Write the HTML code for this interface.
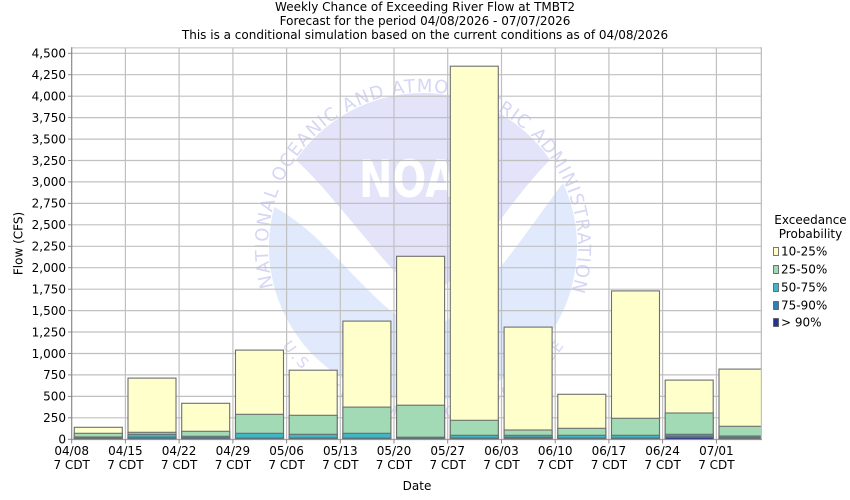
<!DOCTYPE html>
<html><head><meta charset="utf-8"><style>
html,body{margin:0;padding:0;background:#fff;}
svg{display:block;}
text{font-family:"DejaVu Sans","Liberation Sans",sans-serif;font-size:12px;fill:#000;}
</style></head><body>
<svg width="850" height="500" viewBox="0 0 850 500" xmlns="http://www.w3.org/2000/svg">
<defs>
<clipPath id="pc"><rect x="71.7" y="47.3" width="690.3" height="392"/></clipPath>
<path id="ring" d="M273.3,287.1 A155,155 0 1,1 500.5,381.2"/>
<path id="ring2" d="M282.1,345.7 A172,172 0 0,0 563.9,345.7"/>
</defs>
<rect width="850" height="500" fill="#fff"/>
<text x="425" y="11" text-anchor="middle">Weekly Chance of Exceeding River Flow at TMBT2</text>
<text x="425" y="25" text-anchor="middle">Forecast for the period 04/08/2026 - 07/07/2026</text>
<text x="425" y="39" text-anchor="middle">This is a conditional simulation based on the current conditions as of 04/08/2026</text>

<g clip-path="url(#pc)">
<!-- watermark -->
<circle cx="423" cy="247" r="154" fill="#E0EAFC"/>
<path d="M296,160 A154,154 0 0,1 550,160 C500,210 460,290 425,295 C400,290 340,200 296,160 Z" fill="#E3E3FA"/>
<path d="M296,160 A154,154 0 0,0 274,207 C330,235 380,320 425,330 C470,320 520,240 563,183 A154,154 0 0,0 550,160 C500,210 460,290 425,295 C400,290 340,200 296,160 Z" fill="#fff"/>
<text x="423" y="197" text-anchor="middle" textLength="128" lengthAdjust="spacingAndGlyphs" style="font-size:52px;font-weight:bold;fill:#fff;">NOAA</text>
<text style="font-size:18px;fill:#D6D6F5;letter-spacing:1.15px;"><textPath href="#ring">NATIONAL OCEANIC AND ATMOSPHERIC ADMINISTRATION</textPath></text>
<text style="font-size:15px;fill:#D6D6F5;"><textPath href="#ring2" textLength="330" lengthAdjust="spacing">U.S. DEPARTMENT OF COMMERCE</textPath></text>

<!-- grid -->
<g stroke="#C0C0C0" stroke-width="1.2" fill="none">
<line x1="71.7" x2="762" y1="47.8" y2="47.8"/>
<line x1="71.7" x2="762" y1="53.3" y2="53.3"/>
<line x1="71.7" x2="762" y1="74.7" y2="74.7"/>
<line x1="71.7" x2="762" y1="96.2" y2="96.2"/>
<line x1="71.7" x2="762" y1="117.6" y2="117.6"/>
<line x1="71.7" x2="762" y1="139.1" y2="139.1"/>
<line x1="71.7" x2="762" y1="160.5" y2="160.5"/>
<line x1="71.7" x2="762" y1="181.9" y2="181.9"/>
<line x1="71.7" x2="762" y1="203.4" y2="203.4"/>
<line x1="71.7" x2="762" y1="224.8" y2="224.8"/>
<line x1="71.7" x2="762" y1="246.3" y2="246.3"/>
<line x1="71.7" x2="762" y1="267.7" y2="267.7"/>
<line x1="71.7" x2="762" y1="289.2" y2="289.2"/>
<line x1="71.7" x2="762" y1="310.6" y2="310.6"/>
<line x1="71.7" x2="762" y1="332.0" y2="332.0"/>
<line x1="71.7" x2="762" y1="353.5" y2="353.5"/>
<line x1="71.7" x2="762" y1="374.9" y2="374.9"/>
<line x1="71.7" x2="762" y1="396.4" y2="396.4"/>
<line x1="71.7" x2="762" y1="417.8" y2="417.8"/>
<line x1="71.7" x2="762" y1="439.3" y2="439.3"/>
<line y1="47.3" y2="439.3" x1="125.4" x2="125.4"/>
<line y1="47.3" y2="439.3" x1="179.1" x2="179.1"/>
<line y1="47.3" y2="439.3" x1="232.9" x2="232.9"/>
<line y1="47.3" y2="439.3" x1="286.6" x2="286.6"/>
<line y1="47.3" y2="439.3" x1="340.3" x2="340.3"/>
<line y1="47.3" y2="439.3" x1="394.0" x2="394.0"/>
<line y1="47.3" y2="439.3" x1="447.7" x2="447.7"/>
<line y1="47.3" y2="439.3" x1="501.5" x2="501.5"/>
<line y1="47.3" y2="439.3" x1="555.2" x2="555.2"/>
<line y1="47.3" y2="439.3" x1="608.9" x2="608.9"/>
<line y1="47.3" y2="439.3" x1="662.6" x2="662.6"/>
<line y1="47.3" y2="439.3" x1="716.4" x2="716.4"/>
<line y1="47.3" y2="439.3" x1="761.4" x2="761.4"/>
</g>

<!-- bars -->
<g stroke="#6E6E6E" stroke-width="1.1">
<g transform="translate(74.3,0)">
<rect x="0" width="48" y="427.3" height="12" fill="#FFFFCC"/>
<rect x="0" width="48" y="433.3" height="6" fill="#A1DAB4"/>
<rect x="0" width="48" y="437.0" height="2.3" fill="#41B6C4"/>
<rect x="0" width="48" y="437.8" height="1.5" fill="#2C7FB8"/>
<rect x="0" width="48" y="438.6" height="0.7" fill="#253494"/>
</g>
<g transform="translate(128.0,0)">
<rect x="0" width="48" y="378.1" height="61.2" fill="#FFFFCC"/>
<rect x="0" width="48" y="432.3" height="7" fill="#A1DAB4"/>
<rect x="0" width="48" y="434.3" height="5" fill="#41B6C4"/>
<rect x="0" width="48" y="437.2" height="2.1" fill="#2C7FB8"/>
<rect x="0" width="48" y="438.9" height="0.4" fill="#253494"/>
</g>
<g transform="translate(181.7,0)">
<rect x="0" width="48" y="403.3" height="36" fill="#FFFFCC"/>
<rect x="0" width="48" y="431.3" height="8" fill="#A1DAB4"/>
<rect x="0" width="48" y="436.3" height="3" fill="#41B6C4"/>
<rect x="0" width="48" y="437.6" height="1.7" fill="#2C7FB8"/>
<rect x="0" width="48" y="438.9" height="0.4" fill="#253494"/>
</g>
<g transform="translate(235.5,0)">
<rect x="0" width="48" y="350.1" height="89.2" fill="#FFFFCC"/>
<rect x="0" width="48" y="414.3" height="25" fill="#A1DAB4"/>
<rect x="0" width="48" y="433.3" height="6" fill="#41B6C4"/>
<rect x="0" width="48" y="438.0" height="1.3" fill="#2C7FB8"/>
</g>
<g transform="translate(289.2,0)">
<rect x="0" width="48" y="370.2" height="69.1" fill="#FFFFCC"/>
<rect x="0" width="48" y="415.3" height="24" fill="#A1DAB4"/>
<rect x="0" width="48" y="434.3" height="5" fill="#41B6C4"/>
<rect x="0" width="48" y="438.0" height="1.3" fill="#2C7FB8"/>
</g>
<g transform="translate(342.9,0)">
<rect x="0" width="48" y="321.1" height="118.2" fill="#FFFFCC"/>
<rect x="0" width="48" y="407.1" height="32.2" fill="#A1DAB4"/>
<rect x="0" width="48" y="433.3" height="6" fill="#41B6C4"/>
<rect x="0" width="48" y="438.0" height="1.3" fill="#2C7FB8"/>
</g>
<g transform="translate(396.6,0)">
<rect x="0" width="48" y="256.3" height="183" fill="#FFFFCC"/>
<rect x="0" width="48" y="405.2" height="34.1" fill="#A1DAB4"/>
<rect x="0" width="48" y="437.2" height="2.1" fill="#41B6C4"/>
<rect x="0" width="48" y="438.0" height="1.3" fill="#2C7FB8"/>
</g>
<g transform="translate(450.3,0)">
<rect x="0" width="48" y="66.2" height="373.1" fill="#FFFFCC"/>
<rect x="0" width="48" y="420.3" height="19" fill="#A1DAB4"/>
<rect x="0" width="48" y="435.3" height="4" fill="#41B6C4"/>
<rect x="0" width="48" y="438.0" height="1.3" fill="#2C7FB8"/>
</g>
<g transform="translate(504.1,0)">
<rect x="0" width="48" y="327.1" height="112.2" fill="#FFFFCC"/>
<rect x="0" width="48" y="430.0" height="9.3" fill="#A1DAB4"/>
<rect x="0" width="48" y="435.3" height="4" fill="#41B6C4"/>
<rect x="0" width="48" y="437.2" height="2.1" fill="#2C7FB8"/>
<rect x="0" width="48" y="438.4" height="0.9" fill="#253494"/>
</g>
<g transform="translate(557.8,0)">
<rect x="0" width="48" y="394.3" height="45" fill="#FFFFCC"/>
<rect x="0" width="48" y="428.3" height="11" fill="#A1DAB4"/>
<rect x="0" width="48" y="435.3" height="4" fill="#41B6C4"/>
<rect x="0" width="48" y="438.0" height="1.3" fill="#2C7FB8"/>
</g>
<g transform="translate(611.5,0)">
<rect x="0" width="48" y="290.9" height="148.4" fill="#FFFFCC"/>
<rect x="0" width="48" y="418.3" height="21" fill="#A1DAB4"/>
<rect x="0" width="48" y="435.3" height="4" fill="#41B6C4"/>
<rect x="0" width="48" y="438.0" height="1.3" fill="#2C7FB8"/>
</g>
<g transform="translate(665.2,0)">
<rect x="0" width="48" y="380.1" height="59.2" fill="#FFFFCC"/>
<rect x="0" width="48" y="413.0" height="26.3" fill="#A1DAB4"/>
<rect x="0" width="48" y="434.3" height="5" fill="#41B6C4"/>
<rect x="0" width="48" y="436.0" height="3.3" fill="#2C7FB8"/>
<rect x="0" width="48" y="437.3" height="2" fill="#253494"/>
</g>
<g transform="translate(719.0,0)">
<rect x="0" width="48" y="369.1" height="70.2" fill="#FFFFCC"/>
<rect x="0" width="48" y="426.3" height="13" fill="#A1DAB4"/>
<rect x="0" width="48" y="436.0" height="3.3" fill="#41B6C4"/>
<rect x="0" width="48" y="437.3" height="2" fill="#2C7FB8"/>
<rect x="0" width="48" y="438.4" height="0.9" fill="#253494"/>
</g>
</g>
</g>
<line x1="761.4" x2="761.4" y1="47.3" y2="439.3" stroke="#C0C0C0" stroke-width="1.2"/>

<!-- axes -->
<line x1="71.7" x2="71.7" y1="47.3" y2="440" stroke="#888" stroke-width="1.2"/>
<line x1="71.7" x2="762" y1="439.6" y2="439.6" stroke="#999" stroke-width="1"/>
<g stroke="#888" stroke-width="1">
<line x1="68" x2="71.7" y1="53.3" y2="53.3"/><line x1="68" x2="71.7" y1="74.7" y2="74.7"/><line x1="68" x2="71.7" y1="96.2" y2="96.2"/><line x1="68" x2="71.7" y1="117.6" y2="117.6"/><line x1="68" x2="71.7" y1="139.1" y2="139.1"/><line x1="68" x2="71.7" y1="160.5" y2="160.5"/><line x1="68" x2="71.7" y1="181.9" y2="181.9"/><line x1="68" x2="71.7" y1="203.4" y2="203.4"/><line x1="68" x2="71.7" y1="224.8" y2="224.8"/><line x1="68" x2="71.7" y1="246.3" y2="246.3"/><line x1="68" x2="71.7" y1="267.7" y2="267.7"/><line x1="68" x2="71.7" y1="289.2" y2="289.2"/><line x1="68" x2="71.7" y1="310.6" y2="310.6"/><line x1="68" x2="71.7" y1="332.0" y2="332.0"/><line x1="68" x2="71.7" y1="353.5" y2="353.5"/><line x1="68" x2="71.7" y1="374.9" y2="374.9"/><line x1="68" x2="71.7" y1="396.4" y2="396.4"/><line x1="68" x2="71.7" y1="417.8" y2="417.8"/><line x1="68" x2="71.7" y1="439.3" y2="439.3"/>
<line y1="439.3" y2="443.5" x1="71.7" x2="71.7"/><line y1="439.3" y2="443.5" x1="125.4" x2="125.4"/><line y1="439.3" y2="443.5" x1="179.1" x2="179.1"/><line y1="439.3" y2="443.5" x1="232.9" x2="232.9"/><line y1="439.3" y2="443.5" x1="286.6" x2="286.6"/><line y1="439.3" y2="443.5" x1="340.3" x2="340.3"/><line y1="439.3" y2="443.5" x1="394.0" x2="394.0"/><line y1="439.3" y2="443.5" x1="447.7" x2="447.7"/><line y1="439.3" y2="443.5" x1="501.5" x2="501.5"/><line y1="439.3" y2="443.5" x1="555.2" x2="555.2"/><line y1="439.3" y2="443.5" x1="608.9" x2="608.9"/><line y1="439.3" y2="443.5" x1="662.6" x2="662.6"/><line y1="439.3" y2="443.5" x1="716.4" x2="716.4"/>
</g>

<g text-anchor="end">
<text x="66" y="57.6">4,500</text><text x="66" y="79">4,250</text><text x="66" y="100.5">4,000</text><text x="66" y="121.9">3,750</text><text x="66" y="143.4">3,500</text><text x="66" y="164.8">3,250</text><text x="66" y="186.2">3,000</text><text x="66" y="207.7">2,750</text><text x="66" y="229.1">2,500</text><text x="66" y="250.6">2,250</text><text x="66" y="272">2,000</text><text x="66" y="293.5">1,750</text><text x="66" y="314.9">1,500</text><text x="66" y="336.3">1,250</text><text x="66" y="357.8">1,000</text><text x="66" y="379.2">750</text><text x="66" y="400.7">500</text><text x="66" y="422.1">250</text><text x="66" y="443.6">0</text>
</g>

<g text-anchor="middle">
<text x="71.7" y="455">04/08</text><text x="71.7" y="469">7 CDT</text>
<text x="125.4" y="455">04/15</text><text x="125.4" y="469">7 CDT</text>
<text x="179.1" y="455">04/22</text><text x="179.1" y="469">7 CDT</text>
<text x="232.9" y="455">04/29</text><text x="232.9" y="469">7 CDT</text>
<text x="286.6" y="455">05/06</text><text x="286.6" y="469">7 CDT</text>
<text x="340.3" y="455">05/13</text><text x="340.3" y="469">7 CDT</text>
<text x="394.0" y="455">05/20</text><text x="394.0" y="469">7 CDT</text>
<text x="447.7" y="455">05/27</text><text x="447.7" y="469">7 CDT</text>
<text x="501.5" y="455">06/03</text><text x="501.5" y="469">7 CDT</text>
<text x="555.2" y="455">06/10</text><text x="555.2" y="469">7 CDT</text>
<text x="608.9" y="455">06/17</text><text x="608.9" y="469">7 CDT</text>
<text x="662.6" y="455">06/24</text><text x="662.6" y="469">7 CDT</text>
<text x="716.4" y="455">07/01</text><text x="716.4" y="469">7 CDT</text>
<text x="417" y="490">Date</text>
</g>
<text transform="translate(22.5,243.5) rotate(-90)" text-anchor="middle">Flow (CFS)</text>

<!-- legend -->
<text x="810.5" y="224" text-anchor="middle">Exceedance</text>
<text x="810.5" y="238" text-anchor="middle">Probability</text>
<g stroke="#555" stroke-width="0.8">
<rect x="773.5" y="247.5" width="5" height="8" fill="#FFFFCC"/>
<rect x="773.5" y="265.5" width="5" height="8" fill="#A1DAB4"/>
<rect x="773.5" y="283.5" width="5" height="8" fill="#41B6C4"/>
<rect x="773.5" y="301.5" width="5" height="8" fill="#2C7FB8"/>
<rect x="773.5" y="318.5" width="5" height="8" fill="#253494"/>
</g>
<text x="781" y="255.5">10-25%</text>
<text x="781" y="273.5">25-50%</text>
<text x="781" y="291.5">50-75%</text>
<text x="781" y="309.5">75-90%</text>
<text x="781" y="326.5">&gt; 90%</text>
</svg>
</body></html>
